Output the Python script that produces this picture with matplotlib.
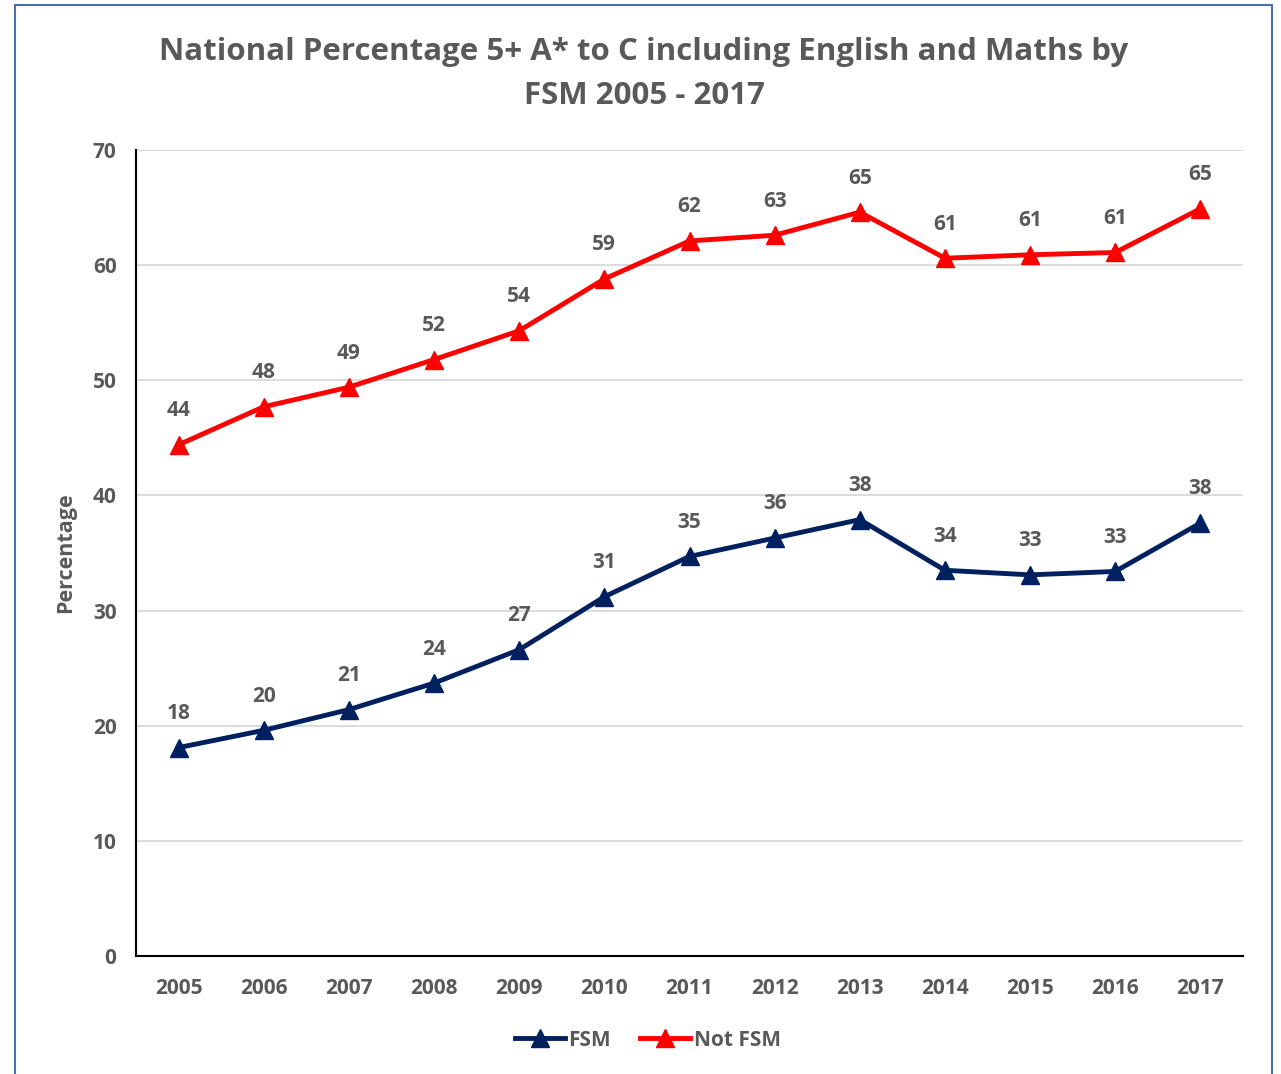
import matplotlib.pyplot as plt
from matplotlib.patches import Rectangle

plt.rcParams['font.family'] = ['Open Sans', 'DejaVu Sans']

years = ['2005', '2006', '2007', '2008', '2009', '2010', '2011',
         '2012', '2013', '2014', '2015', '2016', '2017']
fsm = [18.1, 19.6, 21.4, 23.7, 26.6, 31.2, 34.7, 36.3, 37.9, 33.5, 33.1, 33.4, 37.6]
not_fsm = [44.4, 47.7, 49.4, 51.8, 54.3, 58.8, 62.1, 62.6, 64.6, 60.6, 60.9, 61.1, 64.9]

GREY = '#595959'
NAVY = '#002060'
RED = '#ff0000'

fig = plt.figure(figsize=(12.81, 10.74), dpi=100)
ax = fig.add_axes([136 / 1281, 1 - 956 / 1074, (1243 - 136) / 1281, (956 - 150) / 1074])

# chart frame
fig.patches.append(Rectangle((15 / 1281, -0.01), (1272 - 15) / 1281, 1 - 5 / 1074 + 0.01,
                             transform=fig.transFigure, fill=False,
                             edgecolor='#4a6fa5', linewidth=1.5))

x = list(range(len(years)))
ax.plot(x, fsm, color=NAVY, linewidth=3.5, marker='^', markersize=13, label='FSM',
        zorder=3)
ax.plot(x, not_fsm, color=RED, linewidth=3.5, marker='^', markersize=13, label='Not FSM',
        zorder=3)

for series in (fsm, not_fsm):
    for xi, v in zip(x, series):
        ax.annotate(f'{v:.0f}', (xi, v), xytext=(0, 17), textcoords='offset points',
                    ha='center', va='bottom', fontsize=15, fontweight='bold', color=GREY)

ax.set_xlim(-0.5, len(years) - 0.5)
ax.set_ylim(0, 70)
ax.set_yticks(range(0, 71, 10))
ax.set_xticks(x)
ax.set_xticklabels(years)
ax.tick_params(axis='both', length=0, labelsize=15, labelcolor=GREY)
ax.tick_params(axis='x', pad=16)
ax.tick_params(axis='y', pad=14)
for lbl in ax.get_xticklabels() + ax.get_yticklabels():
    lbl.set_fontweight('bold')
ax.yaxis.grid(True, color='#d9d9d9', linewidth=1.3)
ax.set_axisbelow(True)
for side in ('top', 'right'):
    ax.spines[side].set_visible(False)
for side in ('left', 'bottom'):
    ax.spines[side].set_color('black')
    ax.spines[side].set_linewidth(1.5)

ax.set_ylabel('Percentage', fontsize=15.5, fontweight='bold', color=GREY, labelpad=12)

fig.text(644 / 1281, 1 - 74 / 1074,
         'National Percentage 5+ A* to C including English and Maths by\nFSM 2005 - 2017',
         ha='center', va='center', fontsize=22.5, fontweight='bold', color=GREY,
         linespacing=1.6)

leg = fig.legend(loc='center', bbox_to_anchor=(648 / 1281, 1 - 1040 / 1074), ncol=2,
                 frameon=False, fontsize=15, handlelength=2.4, columnspacing=1.4,
                 handletextpad=0.15)
for t in leg.get_texts():
    t.set_color(GREY)
    t.set_fontweight('bold')

fig.savefig('out.png', dpi=100)
